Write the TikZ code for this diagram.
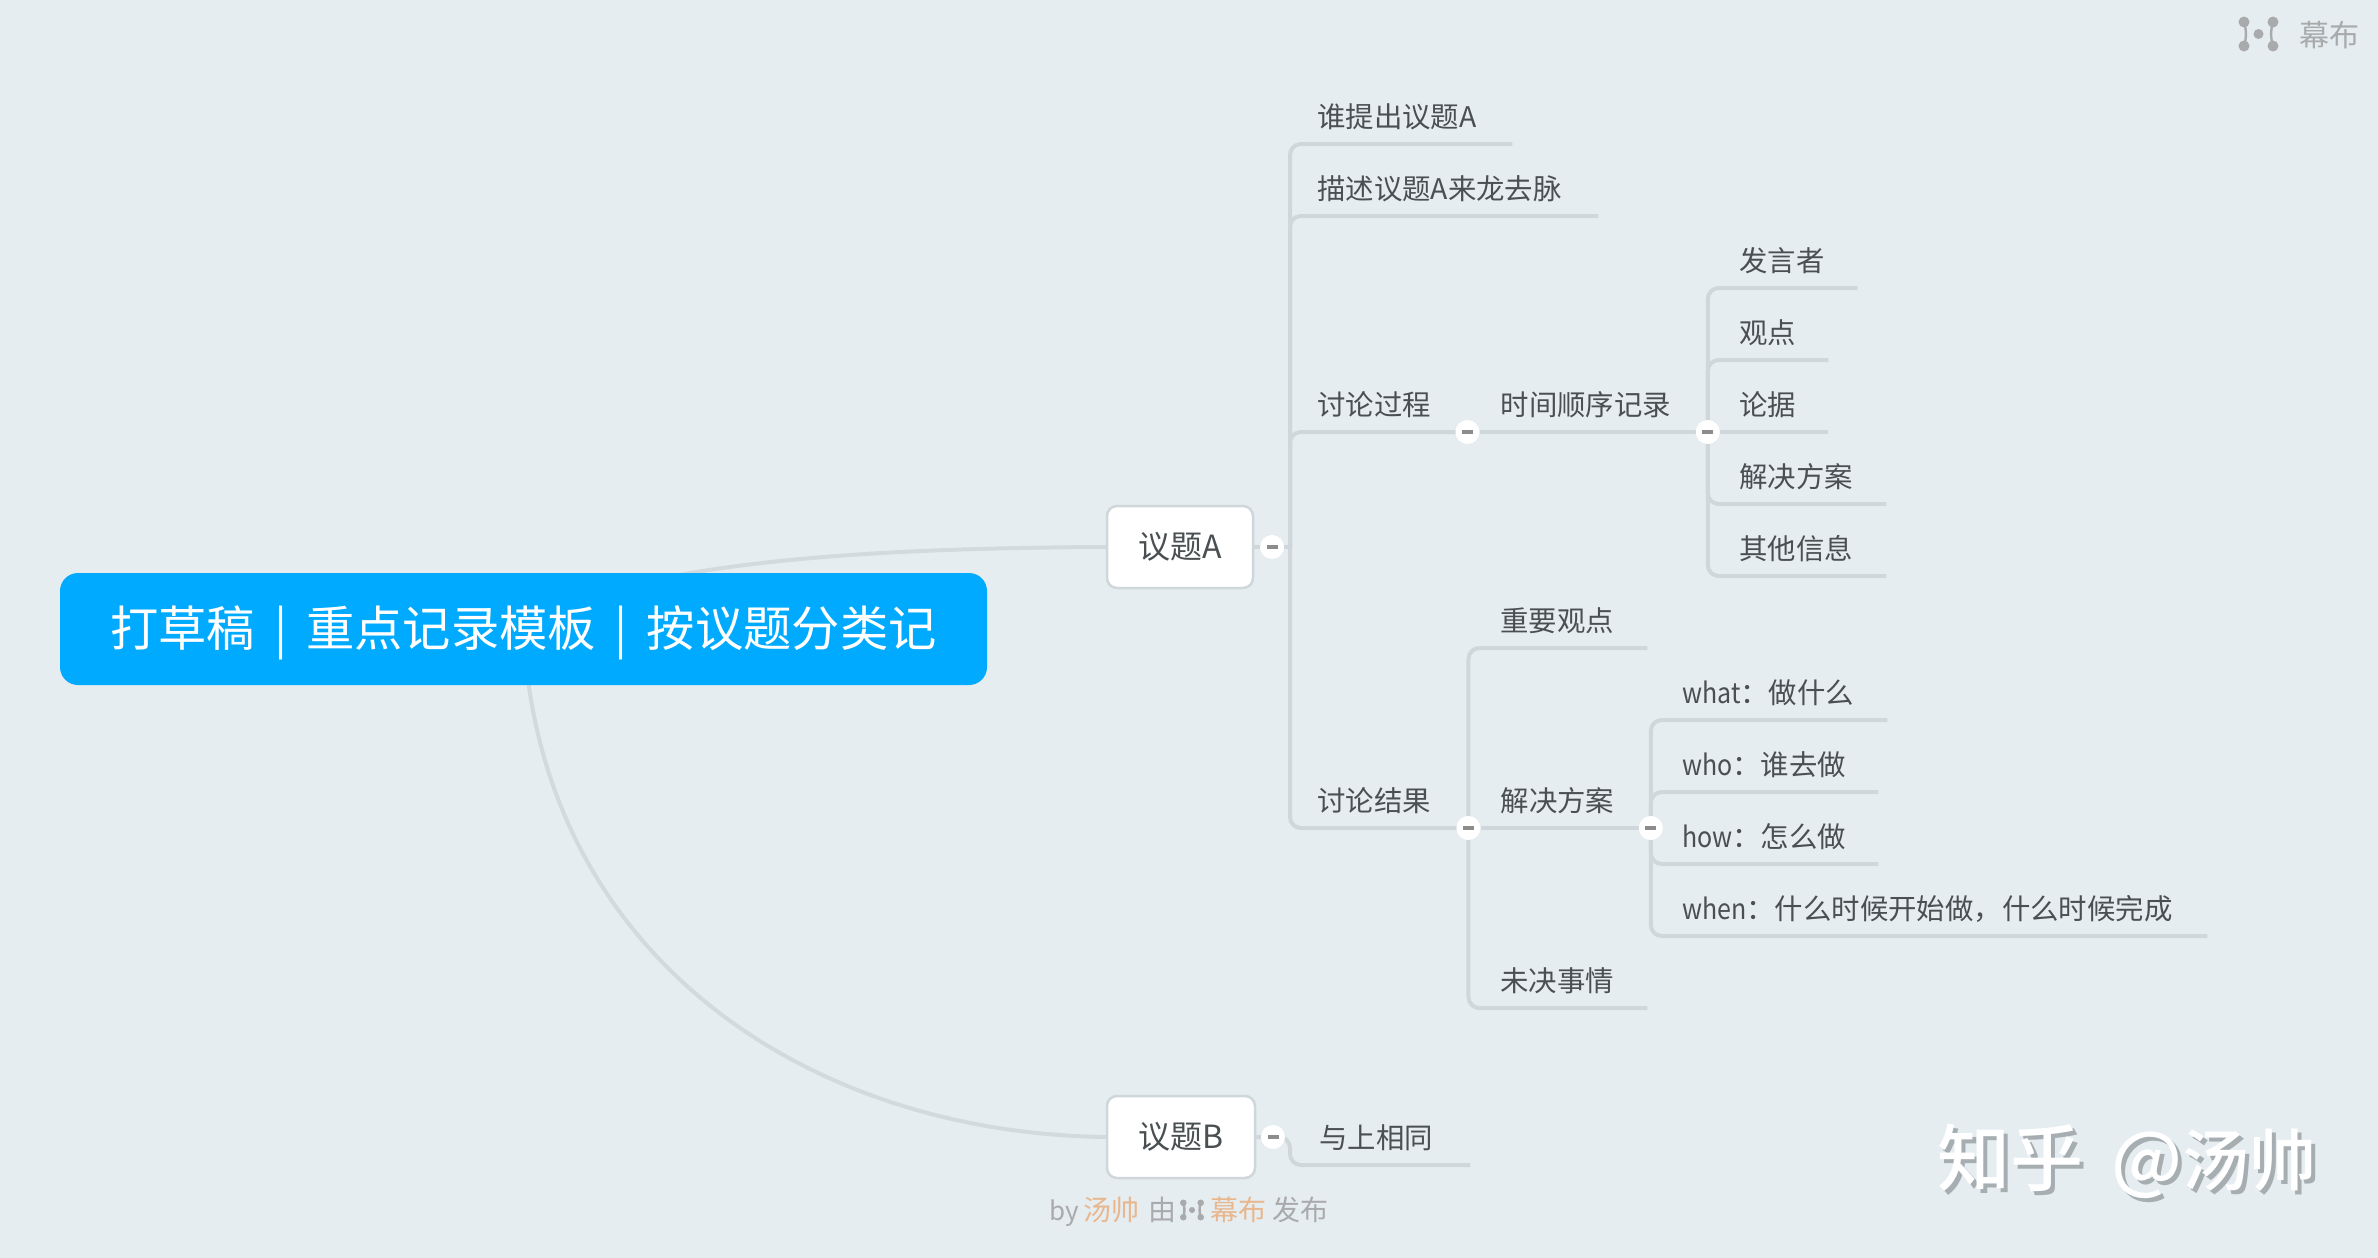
\documentclass[tikz,border=0pt]{standalone}
\usepackage{graphicx}
\usepackage{fontspec}
\setmainfont{Noto Sans CJK SC}
\newfontfamily\wmfont{Noto Sans CJK SC Medium}
\definecolor{bgc}{HTML}{E5EDF1}
\definecolor{linec}{HTML}{CFD7DB}
\definecolor{curvec}{HTML}{D3DADD}
\definecolor{rootc}{HTML}{00AAFF}
\definecolor{textc}{HTML}{4A4F52}
\definecolor{markc}{HTML}{A9AAAB}
\definecolor{orangec}{HTML}{E8B78E}
\definecolor{shadowc}{HTML}{A7AEB2}
\pgfdeclarelayer{back}
\pgfsetlayers{back,main}
\newcommand\ofsA{\hspace*{27pt}}
\newcommand\ofsB{\hspace*{32pt}}
\newcommand\lat[1]{\scalebox{0.88}[1]{#1}}
\newcommand\wmtxt{知乎\hspace{28pt}@{\fontsize{67}{80}\selectfont 汤帅}}
\tikzset{
  conn/.style={draw=linec,line width=4pt,rounded corners=11pt},
  curve/.style={draw=curvec,line width=4pt},
  leaf/.style={anchor=south west,inner sep=0pt,text width=#1,align=left,minimum height=56pt,
    text height=25pt,text depth=2pt,text=textc,font=\fontsize{28.4}{34}\selectfont},
  topicbox/.style={draw=linec,line width=2.5pt,fill=white,rounded corners=10pt,inner sep=0pt,
    minimum width=146pt,minimum height=82pt,text=textc,font=\fontsize{32}{38}\selectfont},
  rootbox/.style={fill=rootc,rounded corners=18pt,inner sep=0pt,minimum width=927pt,minimum height=112pt,
    text height=40pt,text depth=6pt,text=white,font=\fontsize{48.3}{58}\selectfont},
  fold/.style={circle,fill=white,inner sep=0pt,minimum size=24pt,
    path picture={\fill[black!45] ([xshift=-5.5pt,yshift=-1.6pt]path picture bounding box.center) rectangle ([xshift=5.5pt,yshift=1.6pt]path picture bounding box.center);}},
  marktext/.style={inner sep=0pt,anchor=base west,text=markc,font=\fontsize{28}{34}\selectfont},
  wmtext/.style={inner sep=0pt,anchor=base west,font=\fontsize{73}{86}\wmfont},
  muicon/.pic={
    \fill[markc] (-14.5,-12) circle (5.5) (-14.5,12) circle (5.5) (14.5,-12) circle (5.5) (14.5,12) circle (5.5) (0,0) circle (5);
    \draw[markc,line width=2.4pt] (-14.5,-12) .. controls (-12,-4) and (-12,4) .. (-14.5,12);
    \draw[markc,line width=2.4pt] (14.5,-12) .. controls (12,-4) and (12,4) .. (14.5,12);
  },
}
\begin{document}
\begin{tikzpicture}[x=1pt,y=-1pt]
\useasboundingbox (0,0) rectangle (2378,1258);
\begin{pgfonlayer}{back}
\fill[bgc] (0,0) rectangle (2378,1258);
\end{pgfonlayer}

% central and main topics
\node[rootbox] (root) at (523.5,629) {打草稿\hspace{19pt}|\hspace{19pt}重点记录模板\hspace{19pt}|\hspace{19pt}按议题分类记};
\node[topicbox] (ta) at (1180,547) {议题A};
\node[topicbox,minimum width=148pt] (tb) at (1181,1137) {议题B};

% level 1, A
\coordinate (hubA) at (1290,547);
\node[fold] (fa) at (1272,547) {};
\node[leaf=222pt] (a1) at (1290,144) {\ofsA 谁提出议题A};
\node[leaf=308pt] (a2) at (1290,216) {\ofsA 描述议题A来龙去脉};
\node[leaf=177pt] (a3) at (1290,432) {\ofsA 讨论过程};
\node[leaf=178pt] (a4) at (1290,828) {\ofsA 讨论结果};

% discussion process
\node[fold] (f3) at (a3.south east) {};
\node[leaf=240pt] (b1) at (f3) {\hspace*{33pt}时间顺序记录};
\node[fold] (f4) at (b1.south east) {};
\node[leaf=150pt] (c1) at (1707,288) {\ofsB 发言者};
\node[leaf=121pt] (c2) at (1707,360) {\ofsB 观点};
\node[leaf=121pt] (c3) at (1707,432) {\ofsB 论据};
\node[leaf=179pt] (c4) at (1707,504) {\ofsB 解决方案};
\node[leaf=179pt] (c5) at (1707,576) {\ofsB 其他信息};

% discussion result
\node[fold] (f5) at (a4.south east) {};
\node[leaf=179pt] (d1) at (1468,648) {\ofsB 重要观点};
\node[leaf=182pt] (d2) at (f5) {\ofsB 解决方案};
\node[leaf=179pt] (d3) at (1468,1008) {\ofsB 未决事情};
\node[fold] (f6) at (d2.south east) {};
\node[leaf=237pt] (e1) at (1650,720) {\ofsB \lat{what}：做什么};
\node[leaf=228pt] (e2) at (1650,792) {\ofsB \lat{who}：谁去做};
\node[leaf=228pt] (e3) at (1650,864) {\ofsB \lat{how}：怎么做};
\node[leaf=557pt] (e4) at (1650,936) {\ofsB \lat{when}：什么时候开始做，什么时候完成};

% B
\node[fold] (fb) at (1273,1137) {};
\coordinate (hubB) at (1290,1137);
\node[leaf=180pt] (b2) at (1290,1165) {\hspace*{29pt}与上相同};

% connectors
\begin{pgfonlayer}{back}
\coordinate (rc) at (root.center);
\draw[curve] (rc) .. controls (620,560) and (880,548) .. (ta.west);
\draw[curve] (rc) .. controls (538,950) and (800,1133) .. (tb.west);
\draw[conn] (ta.east) -- (fa) -- (hubA);
\draw[conn] (hubA) -- (hubA |- a1.south) -- (a1.south east);
\draw[conn] (hubA) -- (hubA |- a2.south) -- (a2.south east);
\draw[conn] (hubA) -- (hubA |- a3.south) -- (a3.south east);
\draw[conn] (hubA) -- (hubA |- a4.south) -- (a4.south east);
\draw[conn] (f3) -- (f4);
\draw[conn] (f4) -- (f4 |- c1.south) -- (c1.south east);
\draw[conn] (f4) -- (f4 |- c2.south) -- (c2.south east);
\draw[conn] (f4) -- (c3.south east);
\draw[conn] (f4) -- (f4 |- c4.south) -- (c4.south east);
\draw[conn] (f4) -- (f4 |- c5.south) -- (c5.south east);
\draw[conn] (f5) -- (f6);
\draw[conn] (f5) -- (f5 |- d1.south) -- (d1.south east);
\draw[conn] (f5) -- (f5 |- d3.south) -- (d3.south east);
\draw[conn] (f6) -- (f6 |- e1.south) -- (e1.south east);
\draw[conn] (f6) -- (f6 |- e2.south) -- (e2.south east);
\draw[conn] (f6) -- (f6 |- e3.south) -- (e3.south east);
\draw[conn] (f6) -- (f6 |- e4.south) -- (e4.south east);
\draw[conn] (tb.east) -- (fb) -- (hubB) -- (hubB |- b2.south) -- (b2.south east);
\end{pgfonlayer}

% footer
\node[marktext,font=\fontsize{26}{32}\selectfont] (by) at (1049,1220) {by};
\node[marktext,text=orangec] (tangs) at (1083,1220) {汤帅};
\node[marktext] (you) at (1148,1220) {由};
\pic at (1192,1210) [scale=0.6] {muicon};
\node[marktext,text=orangec] (mb1) at (1210,1220) {幕布};
\node[marktext] (fb1) at (1272,1220) {发布};

% top right logo
\pic at (2258.5,34) {muicon};
\node[marktext,font=\fontsize{30}{36}\selectfont] (mb2) at (2299,46) {幕布};

% watermark
\node[wmtext,text=shadowc] (wms) at (1941,1189) {\wmtxt};
\node[wmtext,text=white] (wm) at (1937,1185) {\wmtxt};
\end{tikzpicture}
\end{document}
